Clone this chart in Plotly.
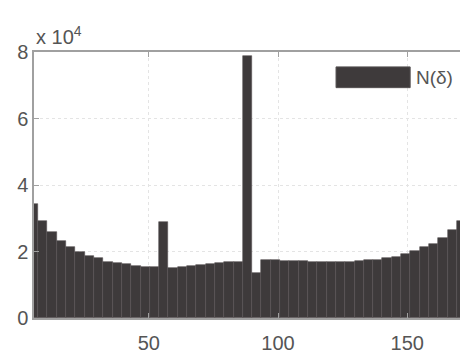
import plotly.graph_objects as go

# Histogram bin centers (degrees), bin width 3.6
bin_centers = [5.4, 9.0, 12.6, 16.2, 19.8, 23.4, 27.0, 30.6, 34.2, 37.8,
               41.4, 45.0, 48.6, 52.2, 55.8, 59.4, 63.0, 66.6, 70.2, 73.8,
               77.4, 81.0, 84.6, 88.2, 91.8, 95.4, 99.0, 102.6, 106.2, 109.8,
               113.4, 117.0, 120.6, 124.2, 127.8, 131.4, 135.0, 138.6, 142.2, 145.8,
               149.4, 153.0, 156.6, 160.2, 163.8, 167.4, 171.0]
counts = [34300, 29200, 25900, 23200, 21400, 19900, 18600, 17900, 16900, 16400,
          16100, 15700, 15400, 15200, 28900, 15100, 15400, 15600, 15900, 16300,
          16600, 16900, 16900, 78800, 13600, 17500, 17300, 17200, 17100, 17000,
          16800, 16700, 16700, 16700, 16900, 17000, 17300, 17500, 17900, 18400,
          19300, 20200, 21300, 22200, 24100, 26400, 29300]
bin_width = 3.6
series_name = "N(δ)"
x_ticks = [50, 100, 150]
y_ticks = [0, 20000, 40000, 60000, 80000]
y_tick_labels = ["0", "2", "4", "6", "8"]

BAR = "#3e3a3b"
TXT = "#555555"
AX = "#a0a0a0"
GRID = "#e4e4e4"
FONT = "Liberation Sans, Arial, sans-serif"

fig = go.Figure()
fig.add_trace(go.Bar(
    x=bin_centers, y=counts, width=bin_width, name=series_name,
    marker=dict(color=BAR, line=dict(color="#575354", width=0.6)),
    showlegend=False,
))

fig.update_layout(
    width=460, height=354,
    margin=dict(l=34, r=0, t=52, b=34),
    paper_bgcolor="white", plot_bgcolor="white",
    font=dict(family=FONT, size=20, color=TXT),
    bargap=0,
    xaxis=dict(range=[5.6, 170.4], tickvals=x_ticks, showgrid=True,
               gridcolor=GRID, griddash="dot", gridwidth=1,
               showline=True, linecolor=AX, linewidth=1.5, mirror="ticks",
               ticks="inside", ticklen=5, tickcolor=AX, zeroline=False,
               ticklabelstandoff=6,
               tickfont=dict(size=20, color=TXT)),
    yaxis=dict(range=[0, 80000], tickvals=y_ticks, ticktext=y_tick_labels,
               showgrid=True, gridcolor=GRID, griddash="dot", gridwidth=1,
               showline=True, linecolor=AX, linewidth=1.5, mirror=False,
               ticks="inside", ticklen=5, tickcolor=AX, zeroline=False,
               tickfont=dict(size=20, color=TXT)),
)

# exponent label
fig.add_annotation(xref="paper", yref="paper", x=0, y=1, xanchor="left",
                   yanchor="bottom", yshift=2, showarrow=False,
                   text="x 10<sup>4</sup>", font=dict(size=20, color=TXT))

# legend (box-less, MATLAB style)
fig.add_shape(type="rect", xref="paper", yref="paper",
              x0=0.709, x1=0.883, y0=0.866, y1=0.944,
              fillcolor=BAR, line=dict(color="#555152", width=1))
fig.add_annotation(xref="paper", yref="paper", x=0.893, y=0.905,
                   xanchor="left", yanchor="middle", showarrow=False,
                   text=series_name, font=dict(size=19, color=TXT))

fig.write_html("out.html", config={"displayModeBar": False},
               post_script="document.body.style.margin='0';document.body.style.overflow='hidden';")
